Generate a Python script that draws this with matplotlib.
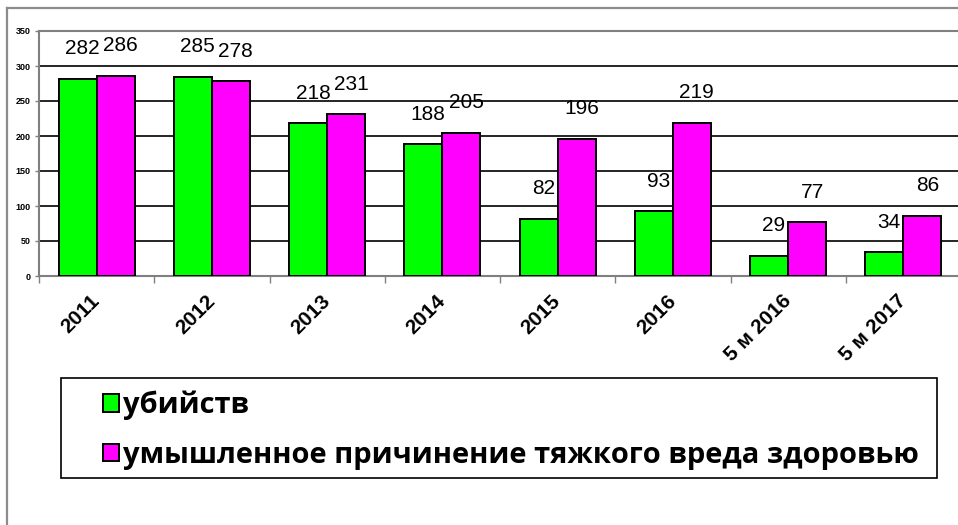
import matplotlib.pyplot as plt
import numpy as np
from matplotlib.patches import Rectangle
from matplotlib.lines import Line2D

periods = ['2011', '2012', '2013', '2014', '2015', '2016', '5 м 2016', '5 м 2017']
murders = [282, 285, 218, 188, 82, 93, 29, 34]
injuries = [286, 278, 231, 205, 196, 219, 77, 86]
series_names = ['убийств', 'умышленное причинение тяжкого вреда здоровью']

fig = plt.figure(figsize=(9.58, 5.25), dpi=100)
W, H = 958, 525

# outer chart frame (the right and bottom edges are cut off)
fig.add_artist(Line2D([7 / W, 7 / W], [0, 1 - 8 / H], color='#8c8c8c', lw=1.6))
fig.add_artist(Line2D([7 / W, 1], [1 - 8 / H, 1 - 8 / H], color='#8c8c8c', lw=1.6))

ax = fig.add_axes([39 / W, 1 - 276 / H, 922 / W, 245 / H])

x = np.arange(len(periods))
bw = 0.33
b1 = ax.bar(x - bw / 2, murders, bw, color='#00ff00', edgecolor='black', lw=1.4, zorder=3)
b2 = ax.bar(x + bw / 2, injuries, bw, color='#ff00ff', edgecolor='black', lw=1.4, zorder=3)

for xs, vals in ((x - bw / 2, murders), (x + bw / 2, injuries)):
    for xi, v in zip(xs, vals):
        ax.annotate(str(v), (xi, v), xytext=(3.5, 21.5), textcoords='offset points',
                    ha='center', va='center', fontsize=15, family='Liberation Sans')

ax.set_xlim(-0.5, len(periods) - 0.5)
ax.set_ylim(0, 350)
ax.set_yticks(range(0, 351, 50))
ax.yaxis.grid(True, color='black', lw=1.2, zorder=1)
ax.set_axisbelow(True)
for lab in ax.get_yticklabels():
    lab.set_fontsize(6.5)
    lab.set_fontweight('bold')
    lab.set_family('Liberation Sans')
ax.tick_params(axis='y', length=3, width=1, color='#808080', pad=3)

ax.set_xticks(x)
ax.set_xticklabels(periods, rotation=45, ha='right', va='center', rotation_mode='anchor',
                   fontsize=15, fontweight='bold', family='Liberation Sans')
ax.tick_params(axis='x', which='major', length=0, pad=16)
ax.set_xticks(np.arange(len(periods) + 1) - 0.5, minor=True)
ax.tick_params(axis='x', which='minor', length=5, width=1, color='#808080')

for side in ('left', 'bottom', 'top'):
    ax.spines[side].set_color('#808080')
    ax.spines[side].set_linewidth(1.5)
ax.spines['right'].set_visible(False)

# legend box
fig.add_artist(Rectangle((61 / W, 1 - 478 / H), 876 / W, 100 / H, transform=fig.transFigure,
                         fill=False, edgecolor='black', lw=1.2))
fig.legend([b1, b2], series_names, loc='upper left', bbox_to_anchor=(103 / W, 1 - 391 / H),
           frameon=False, prop={'family': 'Open Sans', 'weight': 'bold', 'size': 21},
           handlelength=0.55, handleheight=0.55, handletextpad=0.15, labelspacing=0.7,
           borderaxespad=0, borderpad=0)

fig.savefig('out.png', dpi=100)
